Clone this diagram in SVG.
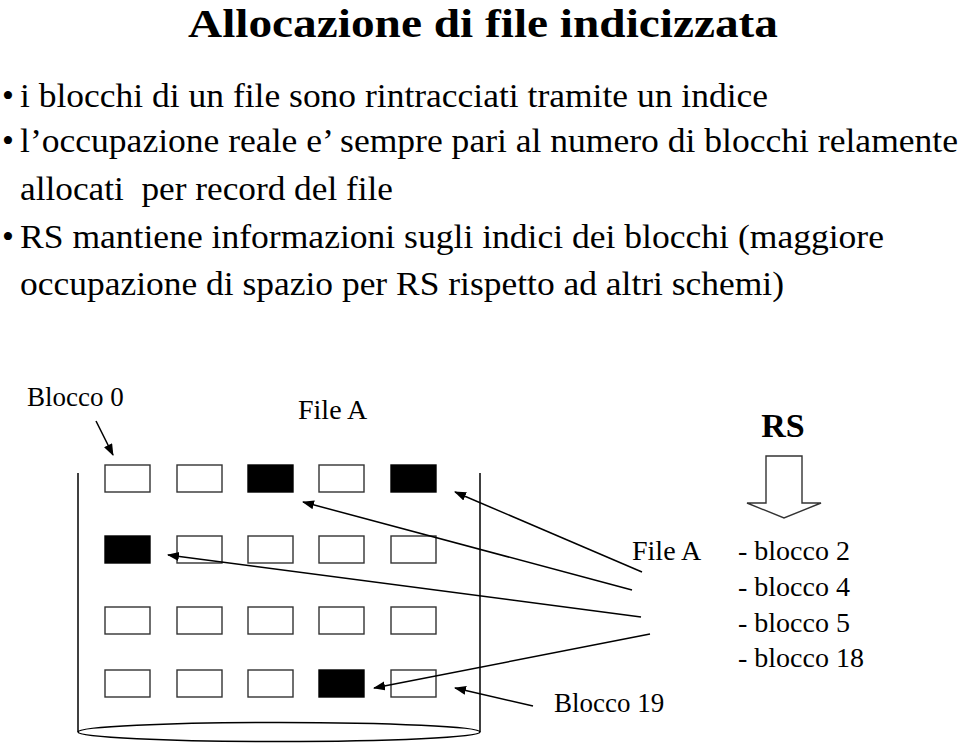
<svg xmlns="http://www.w3.org/2000/svg" width="960" height="743" viewBox="0 0 960 743">
<style>
  .t { font-family: "Liberation Serif", "Times New Roman", serif; fill: #000; }
  .title { font-size: 41px; font-weight: bold; }
  .body { font-size: 34px; }
  .lbl { font-size: 28px; }
  .rs { font-size: 34px; font-weight: bold; }
  .blk { fill: #fff; stroke: #333; stroke-width: 1.4; }
  .full { fill: #000; stroke: #000; stroke-width: 1.4; }
  .ln { stroke: #000; stroke-width: 1.5; fill: none; }
  .arr { stroke: #000; stroke-width: 1.5; fill: none; marker-end: url(#ah); }
</style>
<defs>
  <marker id="ah" markerWidth="12" markerHeight="10" refX="11" refY="4.5" orient="auto" markerUnits="userSpaceOnUse">
    <path d="M0,0 L12,4.5 L0,9 z" fill="#000"/>
  </marker>
</defs>
<rect x="0" y="0" width="960" height="743" fill="#fff"/>

<g id="title">
  <text class="t title" x="483" y="36.5" text-anchor="middle" textLength="590" lengthAdjust="spacingAndGlyphs">Allocazione di file indicizzata</text>
</g>

<g id="bullets">
  <text class="t body" x="2" y="107">•</text>
  <text class="t body" x="20" y="107" textLength="748" lengthAdjust="spacingAndGlyphs">i blocchi di un file sono rintracciati tramite un indice</text>
  <text class="t body" x="2" y="152">•</text>
  <text class="t body" x="20" y="152" textLength="938" lengthAdjust="spacingAndGlyphs">l’occupazione reale e’ sempre pari al numero di blocchi relamente</text>
  <text class="t body" x="20" y="200" textLength="373" lengthAdjust="spacingAndGlyphs" xml:space="preserve">allocati  per record del file</text>
  <text class="t body" x="2" y="248">•</text>
  <text class="t body" x="20" y="248" textLength="864" lengthAdjust="spacingAndGlyphs">RS mantiene informazioni sugli indici dei blocchi (maggiore</text>
  <text class="t body" x="20" y="295" textLength="764" lengthAdjust="spacingAndGlyphs">occupazione di spazio per RS rispetto ad altri schemi)</text>
</g>

<g id="disk">
  <line class="ln" x1="78" y1="473" x2="78" y2="732"/>
  <line class="ln" x1="480" y1="473" x2="480" y2="732"/>
  <ellipse class="ln" cx="279" cy="732" rx="201" ry="9.5"/>
</g>

<g id="blocks">
  <rect class="blk" x="105" y="465" width="45" height="27"/>
  <rect class="blk" x="177" y="465" width="45" height="27"/>
  <rect class="full" x="248" y="465" width="45" height="27"/>
  <rect class="blk" x="319" y="465" width="45" height="27"/>
  <rect class="full" x="391" y="465" width="45" height="27"/>

  <rect class="full" x="105" y="536" width="45" height="27"/>
  <rect class="blk" x="177" y="536" width="45" height="27"/>
  <rect class="blk" x="248" y="536" width="45" height="27"/>
  <rect class="blk" x="319" y="536" width="45" height="27"/>
  <rect class="blk" x="391" y="536" width="45" height="27"/>

  <rect class="blk" x="105" y="607" width="45" height="27"/>
  <rect class="blk" x="177" y="607" width="45" height="27"/>
  <rect class="blk" x="248" y="607" width="45" height="27"/>
  <rect class="blk" x="319" y="607" width="45" height="27"/>
  <rect class="blk" x="391" y="607" width="45" height="27"/>

  <rect class="blk" x="105" y="670" width="45" height="27"/>
  <rect class="blk" x="177" y="670" width="45" height="27"/>
  <rect class="blk" x="248" y="670" width="45" height="27"/>
  <rect class="full" x="319" y="670" width="45" height="27"/>
  <rect class="blk" x="391" y="670" width="45" height="27"/>
</g>

<g id="labels">
  <text class="t" style="font-size:27px" x="27" y="406">Blocco 0</text>
  <text class="t lbl" x="298" y="419">File A</text>
  <text class="t" style="font-size:27px" x="554" y="712">Blocco 19</text>
  <text class="t lbl" x="632" y="560">File A</text>
</g>

<g id="rs-table">
  <text class="t rs" x="783" y="437" text-anchor="middle">RS</text>
  <polygon points="766,456 802,456 802,503 821,503 784,518 747,503 766,503" fill="#fff" stroke="#333" stroke-width="1.4"/>
  <text class="t lbl" x="738" y="560">- blocco 2</text>
  <text class="t lbl" x="738" y="596">- blocco 4</text>
  <text class="t lbl" x="738" y="632">- blocco 5</text>
  <text class="t lbl" x="738" y="667">- blocco 18</text>
</g>

<g id="connectors">
  <line class="arr" x1="96" y1="421" x2="113" y2="455"/>
  <line class="arr" x1="642" y1="572" x2="455" y2="492"/>
  <line class="arr" x1="632" y1="590" x2="303" y2="502"/>
  <line class="arr" x1="641" y1="617" x2="168" y2="555"/>
  <line class="arr" x1="650" y1="634" x2="374" y2="688"/>
  <line class="arr" x1="533" y1="706" x2="455" y2="688"/>
</g>
</svg>
